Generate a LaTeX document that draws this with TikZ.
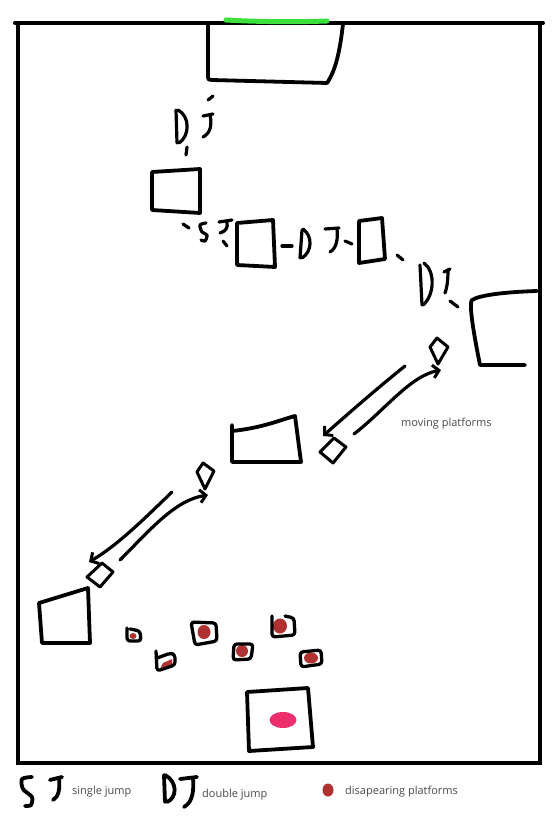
\documentclass[tikz,border=0pt]{standalone}
\usepackage{fontspec}
\setmainfont{Open Sans}
\usetikzlibrary{arrows.meta}
\definecolor{inkred}{HTML}{B03131}
\definecolor{inkpink}{HTML}{EC2E6C}
\definecolor{inkgreen}{HTML}{3BE03B}
\definecolor{txtgray}{HTML}{4A4A4A}
\begin{document}
\begin{tikzpicture}[x=1pt,y=-1pt,
  ink/.style={line width=3.8pt,line cap=round,line join=round},
  thinink/.style={line width=3.2pt,line cap=round,line join=round},
  barb/.style={thinink,-{Straight Barb[length=6pt,width=13pt,line width=3pt]}},
  label/.style={text=txtgray,font=\fontsize{11}{13}\selectfont,inner sep=0pt,anchor=west},
  dis/.style={ink,line width=3.3pt,rounded corners=3pt},
  blob/.style={fill=inkred}]
\useasboundingbox[fill=white] (0,0) rectangle (552,824);

% frame
\draw[line width=4pt,line cap=round] (15,23) -- (543,23);
\draw[line width=4pt] (17.5,22) -- (17.5,763) -- (540,763) -- (540,22);

% top platform and goal
\draw[ink] (208,24) -- (208,76) .. controls (208,80) and (209,80) .. (212,80) -- (327,83) .. controls (336,70) and (340,50) .. (343,24);
\draw[line width=5pt,line cap=round,inkgreen] (226,20) .. controls (260,22) and (300,22) .. (327,21);

% DJ under top platform
\draw[thinink] (208,100) -- (213,96);
\draw[thinink] (176,110) -- (177,143);
\draw[thinink] (178,110) .. controls (190,116) and (190,136) .. (179,143);
\draw[thinink] (203,116) -- (213,114);
\draw[thinink] (210,115) .. controls (212,124) and (211,133) .. (203,137);
\draw[thinink] (187,147) -- (186,155);

% box 2
\draw[ink] (152,172) -- (200,169) -- (200,213) -- (152,210) -- cycle;

% SJ
\draw[thinink] (183,224) -- (189,228);
\draw[thinink] plot[smooth] coordinates {(206,223) (200,225) (202,232) (207,235) (205,241) (201,240)};
\draw[thinink] (219,222) -- (232,220);
\draw[thinink] (227,222) .. controls (228,228) and (226,231) .. (220,233);
\draw[thinink] (223,241) -- (227,246);

% box 3
\draw[ink] (237,223) -- (273,220) -- (275,267) -- (237,265) -- cycle;

% DJ between boxes 3 and 4
\draw[thinink] (282,246) -- (292,246);
\draw[thinink] (302,230) -- (300,258);
\draw[thinink] (303,229) .. controls (313,236) and (312,252) .. (302,258);
\draw[thinink] (325,229) -- (339,228);
\draw[thinink] (337,229) .. controls (338,238) and (337,248) .. (330,252);
\draw[thinink] (345,241) -- (352,244);

% box 4
\draw[ink] (359,221) -- (382,218) -- (385,259) -- (359,263) -- cycle;

% DJ towards right platform
\draw[thinink] (397,255) -- (403,260);
\draw[thinink] (420,265) -- (422,305);
\draw[thinink] (424,263) .. controls (436,272) and (434,296) .. (423,305);
\draw[thinink] (444,272) -- (450,269);
\draw[thinink] (448,270) .. controls (448,280) and (447,288) .. (445,293);
\draw[thinink] (450,301) -- (458,307);

% right platform
\draw[ink] (537,291) .. controls (505,292) and (480,295) .. (472,300) .. controls (468,304) and (476,345) .. (480,365) -- (525,365);

% upper moving platforms
\draw[ink,line width=3pt] (430,347) -- (437,338) -- (448,347) -- (438,364) -- cycle;
\coordinate (upA) at (405,366);
\coordinate (upB) at (323,436);
\coordinate (upC) at (354,434);
\coordinate (upD) at (441,370);
\draw[barb] (upA) .. controls (380,386) and (350,412) .. (upB);
\draw[barb] (upC) .. controls (385,410) and (410,376) .. (upD);
\draw[ink,line width=3pt] (320,452) -- (334,438) -- (346,447) -- (333,463) -- cycle;
\node[label] (mov) at (401,424) {moving platforms};

% middle platform
\draw[ink] (232,425) -- (232,462) -- (301,462) -- (295,416) .. controls (280,420) and (262,428) .. (232,431);

% lower moving platforms
\draw[ink,line width=3pt] (197,472) -- (203,463) -- (214,471) -- (205,489) -- cycle;
\coordinate (loA) at (172,492);
\coordinate (loB) at (89,562);
\coordinate (loC) at (120,560);
\coordinate (loD) at (208,495);
\draw[barb] (loA) .. controls (145,518) and (118,545) .. (loB);
\draw[barb] (loC) .. controls (150,530) and (175,500) .. (loD);
\draw[ink,line width=3pt] (87,577) -- (102,563) -- (113,572) -- (100,587) -- cycle;

% lower left platform
\draw[ink] (39,603) -- (88,588) -- (90,643) -- (42,643) -- cycle;

% disappearing platforms
\fill[inkred] (133,636) ellipse (3.5 and 3);
\draw[dis] (127,628) -- (127,641) -- (141,641) -- (140,631) -- (130,629);
\fill[inkred] (163,663) -- (172,659) -- (172,665) -- (160,669) -- cycle;
\draw[dis] (156,651) -- (157,671) -- (175,665) -- (175,655) -- (171,653) -- (157,658);
\fill[inkred] (204,632) ellipse (6.5 and 7);
\draw[dis] (191,622) -- (195,645) -- (217,641) -- (216,623) -- cycle;
\fill[inkred] (242,651) ellipse (6 and 6);
\draw[dis] (234,644) -- (233,660) -- (251,659) -- (253,644) -- cycle;
\fill[inkred] (280,626) ellipse (7 and 7.5);
\draw[dis] (272,616) -- (272,637) -- (295,635) -- (294,618) -- (285,616);
\fill[inkred] (311,658) ellipse (7 and 5.5);
\draw[dis] (300,652) -- (301,667) -- (322,664) -- (321,650) -- cycle;

% bottom start box
\draw[ink] (247,692) -- (308,688) -- (313,747) -- (249,751) -- cycle;
\fill[inkpink] (283,720) ellipse (13.5 and 8);

% legend
\draw[ink] plot[smooth] coordinates {(32,777) (22,779) (23,789) (32,797) (31,805) (25,806)};
\draw[ink] (50,780) -- (62,777);
\draw[ink] (59,778) .. controls (60,788) and (59,797) .. (53,800);
\node[label] (sj) at (72,792) {single jump};
\draw[ink] (164,775) -- (165,802);
\draw[ink] (165,775) .. controls (178,782) and (177,798) .. (167,802);
\draw[ink] (180,779) -- (197,777);
\draw[ink] (193,778) .. controls (194,790) and (193,802) .. (184,807);
\node[label] (dj) at (202,795) {double jump};
\fill[inkred] (328,790) ellipse (5.5 and 6.5);
\node[label] (dp) at (345,792) {disapearing platforms};
\end{tikzpicture}
\end{document}
